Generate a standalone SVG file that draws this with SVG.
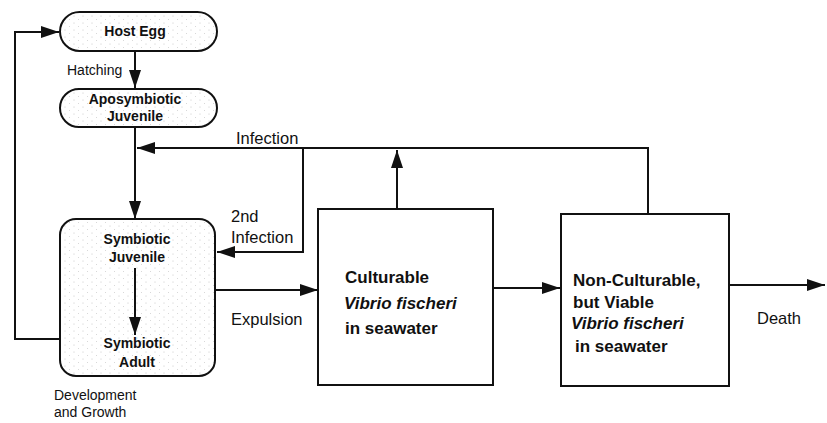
<svg xmlns="http://www.w3.org/2000/svg" width="827" height="423" viewBox="0 0 827 423">
<style>
.pill{fill:url(#stip);stroke:#111;stroke-width:2}
.box{fill:#fff;stroke:#111;stroke-width:2}
.ln{fill:none;stroke:#111;stroke-width:2}
.nb{font-family:"Liberation Sans",Arial,sans-serif;font-weight:bold;font-size:14px;fill:#111;text-anchor:middle}
.bb{font-family:"Liberation Sans",Arial,sans-serif;font-weight:bold;font-size:17px;fill:#111}
.bi{font-style:italic}
.lb{font-family:"Liberation Sans",Arial,sans-serif;font-size:16.5px;fill:#111}
.sl{font-family:"Liberation Sans",Arial,sans-serif;font-size:14px;fill:#111}
</style>
<defs>
<pattern id="stip" width="9" height="7" patternUnits="userSpaceOnUse">
<rect width="9" height="7" fill="#fff"/>
<circle cx="2" cy="2" r="0.5" fill="#bbb"/>
<circle cx="6.5" cy="5.5" r="0.5" fill="#ccc"/>
</pattern>
<marker id="ah" markerWidth="18" markerHeight="12" refX="18" refY="6" orient="auto" markerUnits="userSpaceOnUse">
<path d="M0,0 L18,6 L0,12 z" fill="#111"/>
</marker>
</defs>
<g id="host-egg">
<rect class="pill" x="60" y="12" width="157" height="39" rx="19.5"/>
<text class="nb" x="135" y="36">Host Egg</text>
</g>
<g id="aposymbiotic-juvenile">
<rect class="pill" x="60" y="89" width="157" height="38" rx="19"/>
<text class="nb" x="135" y="104">Aposymbiotic</text>
<text class="nb" x="135" y="121">Juvenile</text>
</g>
<g id="symbiotic">
<rect class="pill" x="60" y="219" width="155" height="157" rx="16"/>
<text class="nb" x="137" y="244">Symbiotic</text>
<text class="nb" x="137" y="262">Juvenile</text>
<text class="nb" x="137" y="348">Symbiotic</text>
<text class="nb" x="137" y="367">Adult</text>
</g>
<g id="culturable">
<rect class="box" x="318" y="209" width="175" height="176"/>
<text class="bb" x="345" y="283">Culturable</text>
<text class="bb bi" x="344" y="309">Vibrio fischeri</text>
<text class="bb" x="345" y="334">in seawater</text>
</g>
<g id="non-culturable">
<rect class="box" x="561" y="214" width="168" height="172"/>
<text class="bb" x="573" y="286">Non-Culturable,</text>
<text class="bb" x="573" y="308">but Viable</text>
<text class="bb bi" x="571" y="329">Vibrio fischeri</text>
<text class="bb" x="575" y="352">in seawater</text>
</g>
<g id="connectors">
<path class="ln" d="M135,51 V88" marker-end="url(#ah)"/>
<path class="ln" d="M135,127 V219" marker-end="url(#ah)"/>
<path class="ln" d="M648,213 V148 H137" marker-end="url(#ah)"/>
<path class="ln" d="M303,148 V252 H217" marker-end="url(#ah)"/>
<path class="ln" d="M59,339 H15 V32 H59" marker-end="url(#ah)"/>
<path class="ln" d="M135,268 V335" marker-end="url(#ah)"/>
<path class="ln" d="M216,290 H318" marker-end="url(#ah)"/>
<path class="ln" d="M397,208 V150" marker-end="url(#ah)"/>
<path class="ln" d="M494,288 H560" marker-end="url(#ah)"/>
<path class="ln" d="M730,285 H825" marker-end="url(#ah)"/>
<text class="sl" x="67" y="75">Hatching</text>
<text class="lb" x="236" y="144">Infection</text>
<text class="lb" x="231" y="222">2nd</text>
<text class="lb" x="231" y="243">Infection</text>
<text class="lb" x="231" y="325">Expulsion</text>
<text class="lb" x="757" y="324">Death</text>
<text class="sl" x="54" y="400">Development</text>
<text class="sl" x="54" y="417">and Growth</text>
</g>
</svg>
